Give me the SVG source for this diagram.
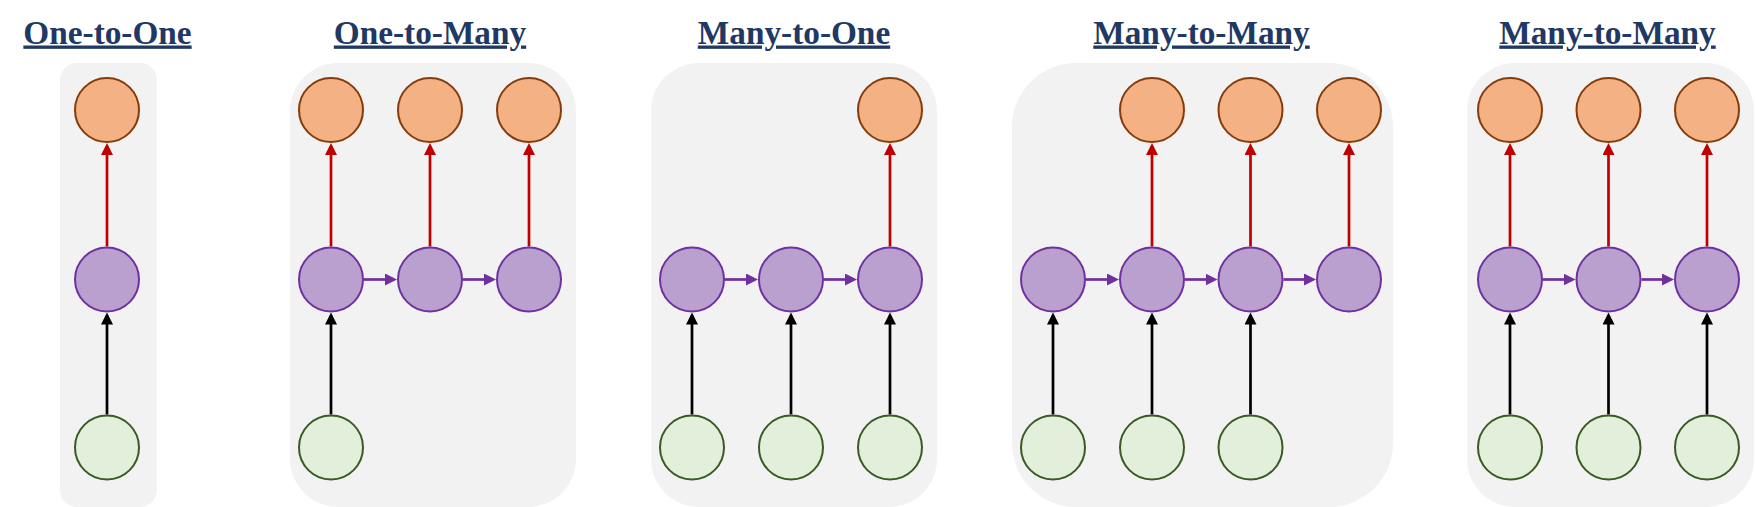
<svg xmlns="http://www.w3.org/2000/svg" width="1755" height="507" viewBox="0 0 1755 507">
<style>
.panel{fill:#F2F2F2;stroke:none}
.title{font-family:"Liberation Serif","Times New Roman",serif;font-weight:bold;font-size:33.3px;fill:#1F3864;text-anchor:middle;text-decoration:underline}
.out{fill:#F4B183;stroke:#843C0C;stroke-width:2}
.hid{fill:#B9A0CE;stroke:#7030A0;stroke-width:2}
.in{fill:#E2EFDA;stroke:#3A5A24;stroke-width:2}
.r{stroke:#C00000;stroke-width:2.7;fill:none;marker-end:url(#ar)}
.k{stroke:#000000;stroke-width:2.7;fill:none;marker-end:url(#ak)}
.p{stroke:#7030A0;stroke-width:2.7;fill:none;marker-end:url(#ap)}
</style>
<defs>
<marker id="ar" viewBox="0 0 12 12" markerWidth="12" markerHeight="12" markerUnits="userSpaceOnUse" refX="9" refY="6" orient="auto"><path d="M0,0 L12,6 L0,12 z" fill="#C00000"/></marker>
<marker id="ak" viewBox="0 0 12 12" markerWidth="12" markerHeight="12" markerUnits="userSpaceOnUse" refX="9" refY="6" orient="auto"><path d="M0,0 L12,6 L0,12 z" fill="#000000"/></marker>
<marker id="ap" viewBox="0 0 12 12" markerWidth="12" markerHeight="12" markerUnits="userSpaceOnUse" refX="9" refY="6" orient="auto"><path d="M0,0 L12,6 L0,12 z" fill="#7030A0"/></marker>
</defs>
<rect width="1755" height="507" fill="#FFFFFF"/>
<g id="panels">
<rect class="panel" x="60" y="63" width="97" height="444" rx="17"/>
<rect class="panel" x="290" y="63" width="286" height="444" rx="48"/>
<rect class="panel" x="651" y="63" width="286" height="444" rx="48"/>
<rect class="panel" x="1012" y="63" width="381" height="444" rx="64"/>
<rect class="panel" x="1467" y="63" width="287" height="444" rx="48"/>
</g>
<g id="titles">
<text class="title" x="107.5" y="43.5">One-to-One</text>
<text class="title" x="430" y="43.5">One-to-Many</text>
<text class="title" x="794" y="43.5">Many-to-One</text>
<text class="title" x="1201.5" y="43.5">Many-to-Many</text>
<text class="title" x="1607.5" y="43.5">Many-to-Many</text>
</g>
<g id="connectors">
<!-- box 1 -->
<line class="r" x1="107" y1="246.5" x2="107" y2="146"/>
<line class="k" x1="107" y1="414.5" x2="107" y2="315.5"/>
<!-- box 2 -->
<line class="r" x1="331" y1="246.5" x2="331" y2="146"/>
<line class="r" x1="430" y1="246.5" x2="430" y2="146"/>
<line class="r" x1="529" y1="246.5" x2="529" y2="146"/>
<line class="k" x1="331" y1="414.5" x2="331" y2="315.5"/>
<line class="p" x1="364" y1="279.5" x2="394" y2="279.5"/>
<line class="p" x1="463" y1="279.5" x2="493" y2="279.5"/>
<!-- box 3 -->
<line class="r" x1="890" y1="246.5" x2="890" y2="146"/>
<line class="k" x1="692" y1="414.5" x2="692" y2="315.5"/>
<line class="k" x1="791" y1="414.5" x2="791" y2="315.5"/>
<line class="k" x1="890" y1="414.5" x2="890" y2="315.5"/>
<line class="p" x1="725" y1="279.5" x2="755" y2="279.5"/>
<line class="p" x1="824" y1="279.5" x2="854" y2="279.5"/>
<!-- box 4 -->
<line class="r" x1="1152" y1="246.5" x2="1152" y2="146"/>
<line class="r" x1="1250.5" y1="246.5" x2="1250.5" y2="146"/>
<line class="r" x1="1349" y1="246.5" x2="1349" y2="146"/>
<line class="k" x1="1053" y1="414.5" x2="1053" y2="315.5"/>
<line class="k" x1="1152" y1="414.5" x2="1152" y2="315.5"/>
<line class="k" x1="1250.5" y1="414.5" x2="1250.5" y2="315.5"/>
<line class="p" x1="1086" y1="279.5" x2="1116" y2="279.5"/>
<line class="p" x1="1185" y1="279.5" x2="1214.5" y2="279.5"/>
<line class="p" x1="1283.5" y1="279.5" x2="1313" y2="279.5"/>
<!-- box 5 -->
<line class="r" x1="1510" y1="246.5" x2="1510" y2="146"/>
<line class="r" x1="1608.5" y1="246.5" x2="1608.5" y2="146"/>
<line class="r" x1="1707" y1="246.5" x2="1707" y2="146"/>
<line class="k" x1="1510" y1="414.5" x2="1510" y2="315.5"/>
<line class="k" x1="1608.5" y1="414.5" x2="1608.5" y2="315.5"/>
<line class="k" x1="1707" y1="414.5" x2="1707" y2="315.5"/>
<line class="p" x1="1543" y1="279.5" x2="1572.5" y2="279.5"/>
<line class="p" x1="1641.5" y1="279.5" x2="1671" y2="279.5"/>
</g>
<!-- box 1 nodes -->
<g id="b1-out"><circle class="out" cx="107" cy="110" r="32"/></g>
<g id="b1-hid"><circle class="hid" cx="107" cy="279.5" r="32"/></g>
<g id="b1-in"><circle class="in" cx="107" cy="447.5" r="32"/></g>
<!-- box 2 nodes -->
<g id="b2-out1"><circle class="out" cx="331" cy="110" r="32"/></g>
<g id="b2-out2"><circle class="out" cx="430" cy="110" r="32"/></g>
<g id="b2-out3"><circle class="out" cx="529" cy="110" r="32"/></g>
<g id="b2-hid1"><circle class="hid" cx="331" cy="279.5" r="32"/></g>
<g id="b2-hid2"><circle class="hid" cx="430" cy="279.5" r="32"/></g>
<g id="b2-hid3"><circle class="hid" cx="529" cy="279.5" r="32"/></g>
<g id="b2-in1"><circle class="in" cx="331" cy="447.5" r="32"/></g>
<!-- box 3 nodes -->
<g id="b3-out3"><circle class="out" cx="890" cy="110" r="32"/></g>
<g id="b3-hid1"><circle class="hid" cx="692" cy="279.5" r="32"/></g>
<g id="b3-hid2"><circle class="hid" cx="791" cy="279.5" r="32"/></g>
<g id="b3-hid3"><circle class="hid" cx="890" cy="279.5" r="32"/></g>
<g id="b3-in1"><circle class="in" cx="692" cy="447.5" r="32"/></g>
<g id="b3-in2"><circle class="in" cx="791" cy="447.5" r="32"/></g>
<g id="b3-in3"><circle class="in" cx="890" cy="447.5" r="32"/></g>
<!-- box 4 nodes -->
<g id="b4-out2"><circle class="out" cx="1152" cy="110" r="32"/></g>
<g id="b4-out3"><circle class="out" cx="1250.5" cy="110" r="32"/></g>
<g id="b4-out4"><circle class="out" cx="1349" cy="110" r="32"/></g>
<g id="b4-hid1"><circle class="hid" cx="1053" cy="279.5" r="32"/></g>
<g id="b4-hid2"><circle class="hid" cx="1152" cy="279.5" r="32"/></g>
<g id="b4-hid3"><circle class="hid" cx="1250.5" cy="279.5" r="32"/></g>
<g id="b4-hid4"><circle class="hid" cx="1349" cy="279.5" r="32"/></g>
<g id="b4-in1"><circle class="in" cx="1053" cy="447.5" r="32"/></g>
<g id="b4-in2"><circle class="in" cx="1152" cy="447.5" r="32"/></g>
<g id="b4-in3"><circle class="in" cx="1250.5" cy="447.5" r="32"/></g>
<!-- box 5 nodes -->
<g id="b5-out1"><circle class="out" cx="1510" cy="110" r="32"/></g>
<g id="b5-out2"><circle class="out" cx="1608.5" cy="110" r="32"/></g>
<g id="b5-out3"><circle class="out" cx="1707" cy="110" r="32"/></g>
<g id="b5-hid1"><circle class="hid" cx="1510" cy="279.5" r="32"/></g>
<g id="b5-hid2"><circle class="hid" cx="1608.5" cy="279.5" r="32"/></g>
<g id="b5-hid3"><circle class="hid" cx="1707" cy="279.5" r="32"/></g>
<g id="b5-in1"><circle class="in" cx="1510" cy="447.5" r="32"/></g>
<g id="b5-in2"><circle class="in" cx="1608.5" cy="447.5" r="32"/></g>
<g id="b5-in3"><circle class="in" cx="1707" cy="447.5" r="32"/></g>
</svg>
